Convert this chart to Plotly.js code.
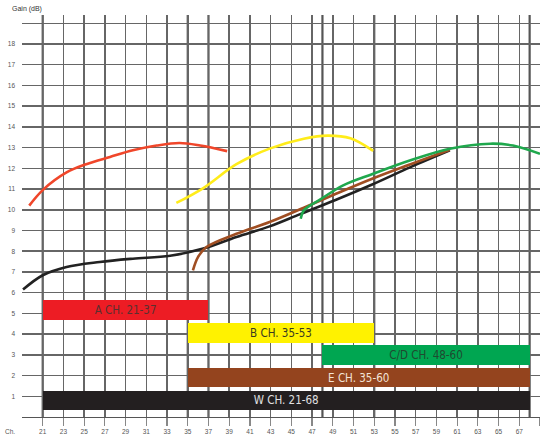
<!DOCTYPE html>
<html><head><meta charset="utf-8">
<script src="https://cdn.plot.ly/plotly-3.0.1.min.js"></script>
<style>html,body{margin:0;padding:0;background:#fff}#chart{width:540px;height:436px}</style>
</head><body><div id="chart"></div>
<script>
// Tick labels
const channelTicks = [21,23,25,27,29,31,33,35,37,39,41,43,45,47,49,51,53,55,57,59,61,63,65,67,69];
const gainTicks = [0,1,2,3,4,5,6,7,8,9,10,11,12,13,14,15,16,17,18,19];
const gainTickText = ["","1","2","3","4","5","6","7","8","9","10","11","12","13","14","15","16","17","18",""];

// Gain curves (channel, dB)
const aCh   = [19.7, 21.0, 23.3, 25.2, 27.5, 29.7, 32.0, 34.2, 36.2, 38.8];
const aGain = [10.2, 10.95, 11.8, 12.2, 12.55, 12.87, 13.1, 13.22, 13.1, 12.83];
const bCh   = [33.9, 36.5, 39.7, 42.9, 46.2, 48.5, 50.7, 52.9];
const bGain = [10.33, 11.05, 12.2, 12.95, 13.43, 13.58, 13.45, 12.84];
const wCh   = [19.1, 21.0, 23.3, 26.5, 29.7, 33.3, 36.5, 39.7, 42.9, 45.8, 49.2, 52.8, 56.5, 60.3];
const wGain = [6.15, 6.84, 7.24, 7.48, 7.64, 7.78, 8.13, 8.69, 9.2, 9.78, 10.46, 11.22, 12.06, 12.87];
const eCh   = [35.5, 36.0, 36.8, 39.7, 42.9, 46.2, 49.2, 52.8, 56.5, 60.3];
const eGain = [7.08, 7.73, 8.2, 8.84, 9.41, 10.1, 10.75, 11.5, 12.2, 12.9];
const cdCh   = [45.9, 46.2, 47.8, 50.0, 52.9, 56.5, 60.3, 64.2, 66.4, 69.0];
const cdGain = [9.57, 9.97, 10.5, 11.18, 11.74, 12.39, 12.95, 13.19, 13.1, 12.7];

// Channel bands
const bandLabels = ["A CH. 21-37","B CH. 35-53","C/D CH. 48-60","E CH. 35-60","W CH. 21-68"];
const bandStart  = [21, 35, 48, 35, 21];
const bandEnd    = [37, 53, 68, 68, 68];
const bandLevel  = [5.15, 4.05, 3.0, 1.9, 0.8];
const bandColors = ["#ed1c24","#fff200","#00a651","#94441e","#231f20"];
const bandTextColors = ["#5a3030","#3a3a20","#1f4a30","#f3e3d6","#e0e0e0"];

const curve = (x, y, color) => ({
  x: x, y: y, type: 'scatter', mode: 'lines',
  line: {color: color, width: 2.6, shape: 'spline', smoothing: 1},
  hoverinfo: 'skip', showlegend: false
});

const bands = {
  type: 'bar', orientation: 'h',
  y: bandLevel,
  base: bandStart,
  x: bandEnd.map((e, i) => e - bandStart[i]),
  width: 0.95,
  marker: {color: bandColors, line: {width: 0}},
  text: bandLabels,
  textposition: 'inside',
  insidetextanchor: 'middle',
  textangle: 0,
  constraintext: 'none',
  textfont: {family: 'DejaVu Sans Condensed, Liberation Sans', size: 11.5, color: bandTextColors},
  hoverinfo: 'skip', showlegend: false
};

const data = [
  bands,
  curve(aCh, aGain, '#f0462a'),
  curve(bCh, bGain, '#ffec1a'),
  curve(wCh, wGain, '#222222'),
  curve(eCh, eGain, '#a04e22'),
  curve(cdCh, cdGain, '#1fa84d')
];

const boundaries = Array.from(new Set(bandStart.concat(bandEnd)));
const shapes = boundaries.map(b => ({
  type: 'line', xref: 'x', yref: 'paper', x0: b, x1: b, y0: 0, y1: 1,
  line: {color: '#555', width: 2.2}, layer: 'between'
}));

const layout = {
  width: 540, height: 436,
  margin: {l: 22, r: 0, t: 14.5, b: 19, pad: 0},
  paper_bgcolor: '#fff', plot_bgcolor: '#fff',
  bargap: 0,
  xaxis: {
    range: [19, 69], tickvals: channelTicks, ticktext: channelTicks.map(String),
    ticks: 'outside', ticklen: 8, tickcolor: '#888', tickwidth: 1.2,
    tickfont: {family: 'Liberation Sans, Arial', size: 6.5, color: '#555'},
    showgrid: true, gridcolor: '#666', gridwidth: 1.5,
    zeroline: false, showline: true, linecolor: '#555', linewidth: 1.4
  },
  yaxis: {
    range: [0, 19.4], tickvals: gainTicks, ticktext: gainTickText,
    ticks: '', ticklabelstandoff: 6,
    tickfont: {family: 'Liberation Sans, Arial', size: 6.5, color: '#555'},
    showgrid: true, gridcolor: '#666', gridwidth: 1.5,
    zeroline: false, showline: false
  },
  shapes: shapes,
  annotations: [
    {text: 'Gain (dB)', xref: 'paper', yref: 'paper', x: -12/518, y: 1.016,
     xanchor: 'left', yanchor: 'middle', showarrow: false,
     font: {family: 'Liberation Sans, Arial', size: 7, color: '#333'}},
    {text: 'Ch.', xref: 'paper', yref: 'paper', x: -12/518, y: -0.037,
     xanchor: 'center', yanchor: 'middle', showarrow: false,
     font: {family: 'Liberation Sans, Arial', size: 6.5, color: '#555'}}
  ]
};

Plotly.newPlot('chart', data, layout, {staticPlot: true, displayModeBar: false});
</script></body></html>
